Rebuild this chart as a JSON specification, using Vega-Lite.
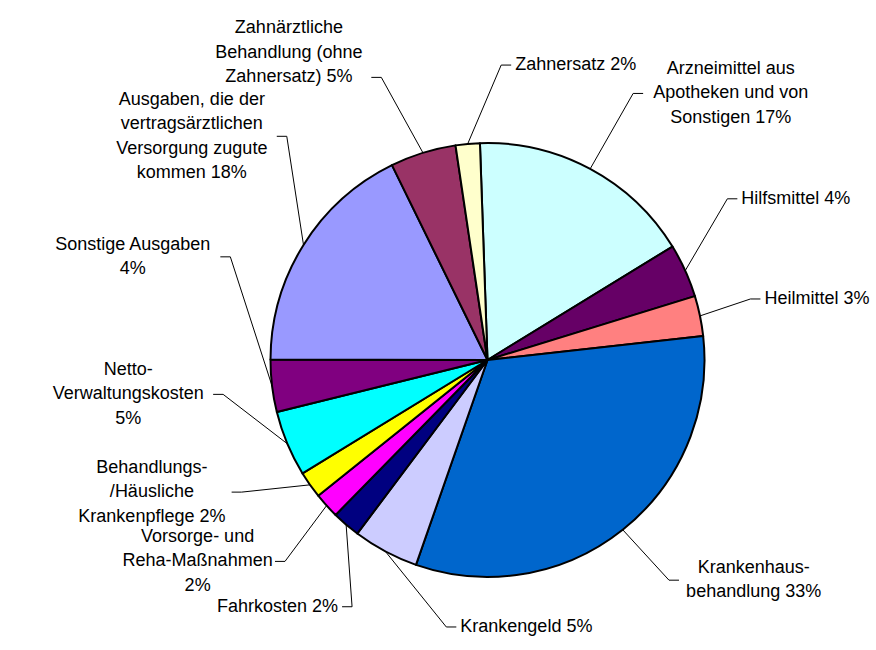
{
  "$schema": "https://vega.github.io/schema/vega-lite/v6.json",
  "width": 775,
  "height": 580,
  "autosize": {"type": "none"},
  "padding": {"left": 100, "top": 70, "right": 0, "bottom": 0},
  "background": "white",
  "config": {"view": {"stroke": null}, "font": "Liberation Sans"},
  "data": {
    "values": [
      {"name": "Arzneimittel aus Apotheken und von Sonstigen", "label": ["Arzneimittel aus", "Apotheken und von", "Sonstigen 17%"], "value": 16.8},
      {"name": "Hilfsmittel", "label": ["Hilfsmittel 4%"], "value": 4.0},
      {"name": "Heilmittel", "label": ["Heilmittel 3%"], "value": 3.0},
      {"name": "Krankenhausbehandlung", "label": ["Krankenhaus-", "behandlung 33%"], "value": 32.1},
      {"name": "Krankengeld", "label": ["Krankengeld 5%"], "value": 4.9},
      {"name": "Fahrkosten", "label": ["Fahrkosten 2%"], "value": 2.1},
      {"name": "Vorsorge- und Reha-Maßnahmen", "label": ["Vorsorge- und", "Reha-Maßnahmen", "2%"], "value": 1.9},
      {"name": "Behandlungs-/Häusliche Krankenpflege", "label": ["Behandlungs-", "/Häusliche", "Krankenpflege 2%"], "value": 2.0},
      {"name": "Netto-Verwaltungskosten", "label": ["Netto-", "Verwaltungskosten", "5%"], "value": 4.9},
      {"name": "Sonstige Ausgaben", "label": ["Sonstige Ausgaben", "4%"], "value": 3.9},
      {"name": "Ausgaben, die der vertragsärztlichen Versorgung zugute kommen", "label": ["Ausgaben, die der", "vertragsärztlichen", "Versorgung zugute", "kommen 18%"], "value": 17.7},
      {"name": "Zahnärztliche Behandlung (ohne Zahnersatz)", "label": ["Zahnärztliche", "Behandlung (ohne", "Zahnersatz) 5%"], "value": 4.9},
      {"name": "Zahnersatz", "label": ["Zahnersatz 2%"], "value": 1.8}
    ]
  },
  "transform": [
    {"window": [{"op": "row_number", "as": "i0"}]},
    {"calculate": "datum.i0 - 1", "as": "i"},
    {"joinaggregate": [{"op": "sum", "field": "value", "as": "total"}]},
    {"window": [{"op": "sum", "field": "value", "as": "cum"}], "sort": [{"field": "i"}], "frame": [null, 0]},
    {"calculate": "-2*PI/180 + 2*PI*(datum.cum - datum.value/2)/datum.total", "as": "mid"},
    {"calculate": "datum.mid - datum.i*20*PI/180", "as": "t"},
    {"window": [{"op": "max", "field": "t", "as": "tmax"}], "sort": [{"field": "i"}], "frame": [null, 0]},
    {"window": [{"op": "min", "field": "t", "as": "tmin"}], "sort": [{"field": "i"}], "frame": [0, null]},
    {"calculate": "datum.i*20*PI/180 + (datum.tmax + datum.tmin)/2", "as": "L"},
    {"calculate": "sin(datum.L)", "as": "sL"},
    {"calculate": "cos(datum.L)", "as": "cL"},
    {"calculate": "datum.sL > -0.12 ? 1 : -1", "as": "side"},
    {"calculate": "length(datum.label)", "as": "nl"},
    {"calculate": "datum.label[0] || ''", "as": "s0"},
    {"calculate": "datum.label[1] || ''", "as": "s1"},
    {"calculate": "datum.label[2] || ''", "as": "s2"},
    {"calculate": "datum.label[3] || ''", "as": "s3"},
    {"calculate": "18*(0.58*length(datum.s0) - 0.3*(length(datum.s0) - length(replace(datum.s0, regexp('[ijltfr ,.()/-]', 'g'), ''))))", "as": "w0"},
    {"calculate": "18*(0.58*length(datum.s1) - 0.3*(length(datum.s1) - length(replace(datum.s1, regexp('[ijltfr ,.()/-]', 'g'), ''))))", "as": "w1"},
    {"calculate": "18*(0.58*length(datum.s2) - 0.3*(length(datum.s2) - length(replace(datum.s2, regexp('[ijltfr ,.()/-]', 'g'), ''))))", "as": "w2"},
    {"calculate": "18*(0.58*length(datum.s3) - 0.3*(length(datum.s3) - length(replace(datum.s3, regexp('[ijltfr ,.()/-]', 'g'), ''))))", "as": "w3"},
    {"calculate": "max(datum.w0, datum.w1, datum.w2, datum.w3)", "as": "maxw"},
    {"calculate": "217*sin(datum.mid)", "as": "ex"},
    {"calculate": "217*cos(datum.mid)", "as": "ey"},
    {"calculate": "265*(datum.sL < 0 ? -1 : 1)*pow(abs(datum.sL), 0.8)", "as": "lx"},
    {"calculate": "(datum.cL > 0 ? 295 : 268)*(datum.cL < 0 ? -1 : 1)*pow(abs(datum.cL), 0.8)", "as": "ly"},
    {"calculate": "datum.lx + datum.side*10", "as": "hx"},
    {"calculate": "datum.hx + datum.side*4", "as": "tx"},
    {"calculate": "datum.tx + datum.side*(3 + datum.maxw/2)", "as": "cx"},
    {"calculate": "datum.ly + (datum.nl - 1)*12.25 + (datum.cL > 0.9 ? (datum.nl - 1)*12.25 : 0)", "as": "ty"}
  ],
  "layer": [
    {
      "mark": {"type": "arc", "outerRadius": 217, "stroke": "black", "strokeWidth": 2, "strokeJoin": "round"},
      "encoding": {
        "theta": {"field": "value", "type": "quantitative", "stack": true, "scale": {"range": [-0.0349, 6.2483]}},
        "color": {
          "field": "name", "type": "nominal", "legend": null,
          "scale": {
            "domain": ["Arzneimittel aus Apotheken und von Sonstigen", "Hilfsmittel", "Heilmittel", "Krankenhausbehandlung", "Krankengeld", "Fahrkosten", "Vorsorge- und Reha-Maßnahmen", "Behandlungs-/Häusliche Krankenpflege", "Netto-Verwaltungskosten", "Sonstige Ausgaben", "Ausgaben, die der vertragsärztlichen Versorgung zugute kommen", "Zahnärztliche Behandlung (ohne Zahnersatz)", "Zahnersatz"],
            "range": ["#CCFFFF", "#660066", "#FF8080", "#0066CC", "#CCCCFF", "#000080", "#FF00FF", "#FFFF00", "#00FFFF", "#800080", "#9999FF", "#993366", "#FFFFCC"]
          }
        },
        "order": {"field": "i", "type": "quantitative"}
      }
    },
    {
      "mark": {"type": "rule", "color": "black", "strokeWidth": 1},
      "encoding": {
        "x": {"field": "ex", "type": "quantitative", "scale": {"domain": [-387.5, 387.5], "nice": false, "zero": false}, "axis": null},
        "y": {"field": "ey", "type": "quantitative", "scale": {"domain": [-290, 290], "nice": false, "zero": false}, "axis": null},
        "x2": {"field": "lx"},
        "y2": {"field": "ly"}
      }
    },
    {
      "mark": {"type": "rule", "color": "black", "strokeWidth": 1},
      "encoding": {
        "x": {"field": "lx", "type": "quantitative", "scale": {"domain": [-387.5, 387.5], "nice": false, "zero": false}, "axis": null},
        "y": {"field": "ly", "type": "quantitative", "scale": {"domain": [-290, 290], "nice": false, "zero": false}, "axis": null},
        "x2": {"field": "hx"}
      }
    },
    {
      "transform": [{"filter": "datum.side > 0 && datum.nl == 1"}],
      "mark": {"type": "text", "align": "left", "baseline": "middle", "fontSize": 18, "lineHeight": 24.5, "font": "Liberation Sans", "color": "black"},
      "encoding": {
        "x": {"field": "tx", "type": "quantitative", "scale": {"domain": [-387.5, 387.5], "nice": false, "zero": false}, "axis": null},
        "y": {"field": "ty", "type": "quantitative", "scale": {"domain": [-290, 290], "nice": false, "zero": false}, "axis": null},
        "text": {"field": "label"}
      }
    },
    {
      "transform": [{"filter": "datum.side < 0 && datum.nl == 1"}],
      "mark": {"type": "text", "align": "right", "baseline": "middle", "fontSize": 18, "lineHeight": 24.5, "font": "Liberation Sans", "color": "black"},
      "encoding": {
        "x": {"field": "tx", "type": "quantitative", "scale": {"domain": [-387.5, 387.5], "nice": false, "zero": false}, "axis": null},
        "y": {"field": "ty", "type": "quantitative", "scale": {"domain": [-290, 290], "nice": false, "zero": false}, "axis": null},
        "text": {"field": "label"}
      }
    },
    {
      "transform": [{"filter": "datum.nl > 1"}],
      "mark": {"type": "text", "align": "center", "baseline": "middle", "fontSize": 18, "lineHeight": 24.5, "font": "Liberation Sans", "color": "black"},
      "encoding": {
        "x": {"field": "cx", "type": "quantitative", "scale": {"domain": [-387.5, 387.5], "nice": false, "zero": false}, "axis": null},
        "y": {"field": "ty", "type": "quantitative", "scale": {"domain": [-290, 290], "nice": false, "zero": false}, "axis": null},
        "text": {"field": "label"}
      }
    }
  ]
}
